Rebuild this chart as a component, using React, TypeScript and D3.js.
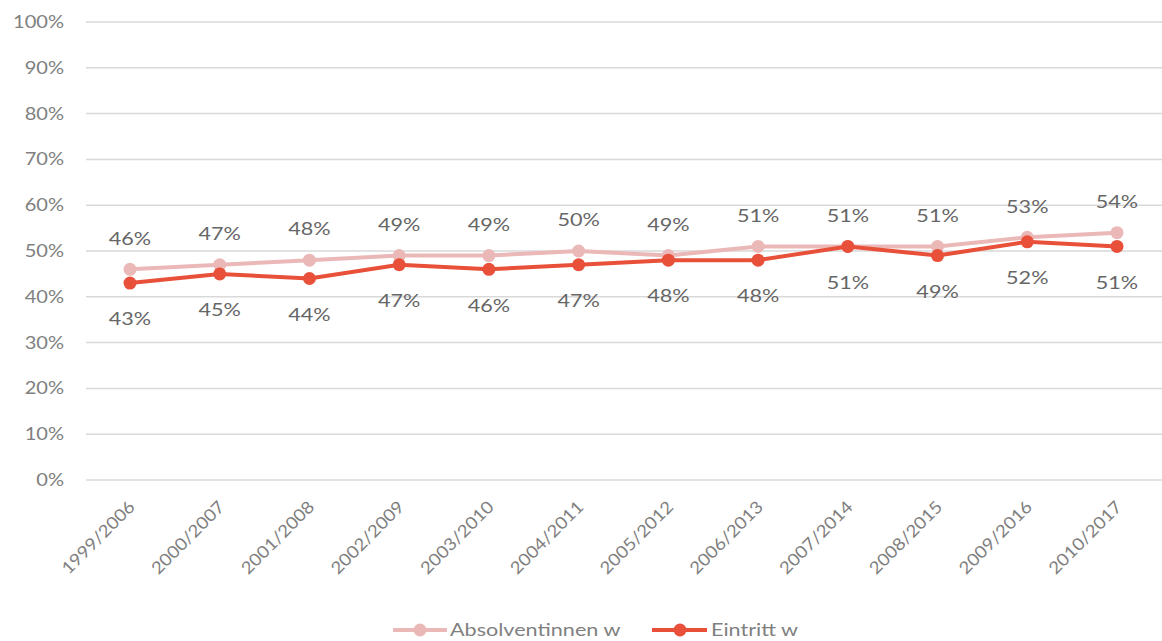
import React from "react";
import * as d3 from "d3";

const categories = ["1999/2006","2000/2007","2001/2008","2002/2009","2003/2010","2004/2011","2005/2012","2006/2013","2007/2014","2008/2015","2009/2016","2010/2017"];
const absolventinnen = [46,47,48,49,49,50,49,51,51,51,53,54];
const eintritt = [43,45,44,47,46,47,48,48,51,49,52,51];
const yTicks = [0,10,20,30,40,50,60,70,80,90,100];

const W = 1162, H = 641;
const colA = "#EBB8B8";
const colE = "#E8503A";
const font = "Lato, 'Open Sans', sans-serif";

function T({ x, y, sx = 1.18, rot = 0, anchor = "start", size, fill, children }: any) {
  return (
    <text transform={`translate(${x},${y}) rotate(${rot}) scale(${sx},1)`} dy="0.35em" textAnchor={anchor}
      fontFamily={font} fontSize={size} fill={fill}>{children}</text>
  );
}

export default function App() {
  const x = d3.scalePoint<string>().domain(categories).range([130, 1117]);
  const y = d3.scaleLinear().domain([0, 100]).range([480, 22]);
  const line = d3.line<number>().x((_, i) => x(categories[i])!).y(d => y(d));
  return (
    <svg width={W} height={H} style={{ position: "absolute", left: 0, top: 0, background: "#fff" }}>
      {yTicks.map(t => (
        <g key={t}>
          <line x1={86} x2={1162} y1={y(t)} y2={y(t)} stroke="#D9D9D9" strokeWidth={1.5} />
          <T x={64} y={y(t)} anchor="end" size={17} sx={1.18} fill="#808080">{t}%</T>
        </g>
      ))}
      {categories.map(c => (
        <text key={c} transform={`translate(${x(c)! + 6},${508}) rotate(-45) scale(1.1,1)`} textAnchor="end" fontFamily={font} fontSize={17} fill="#808080">{c}</text>
      ))}
      <path d={line(absolventinnen)!} fill="none" stroke={colA} strokeWidth={4} />
      {absolventinnen.map((v, i) => (
        <circle key={"a" + i} cx={x(categories[i])!} cy={y(v)} r={6.5} fill={colA} />
      ))}
      <path d={line(eintritt)!} fill="none" stroke={colE} strokeWidth={4} />
      {eintritt.map((v, i) => (
        <circle key={"e" + i} cx={x(categories[i])!} cy={y(v)} r={6.5} fill={colE} />
      ))}
      {absolventinnen.map((v, i) => (
        <T key={"la" + i} x={x(categories[i])!} y={y(v) - 31} anchor="middle" size={18} sx={1.2} fill="#666666">{v}%</T>
      ))}
      {eintritt.map((v, i) => (
        <T key={"le" + i} x={x(categories[i])!} y={y(v) + 36} anchor="middle" size={18} sx={1.2} fill="#666666">{v}%</T>
      ))}
      <g>
        <line x1={393} x2={447} y1={630} y2={630} stroke={colA} strokeWidth={4} />
        <circle cx={420} cy={630} r={6.5} fill={colA} />
        <T x={450} y={630} size={18} sx={1.2} fill="#808080">Absolventinnen w</T>
        <line x1={652} x2={707} y1={630} y2={630} stroke={colE} strokeWidth={4} />
        <circle cx={680} cy={630} r={6.5} fill={colE} />
        <T x={711} y={630} size={18} sx={1.2} fill="#808080">Eintritt w</T>
      </g>
    </svg>
  );
}
